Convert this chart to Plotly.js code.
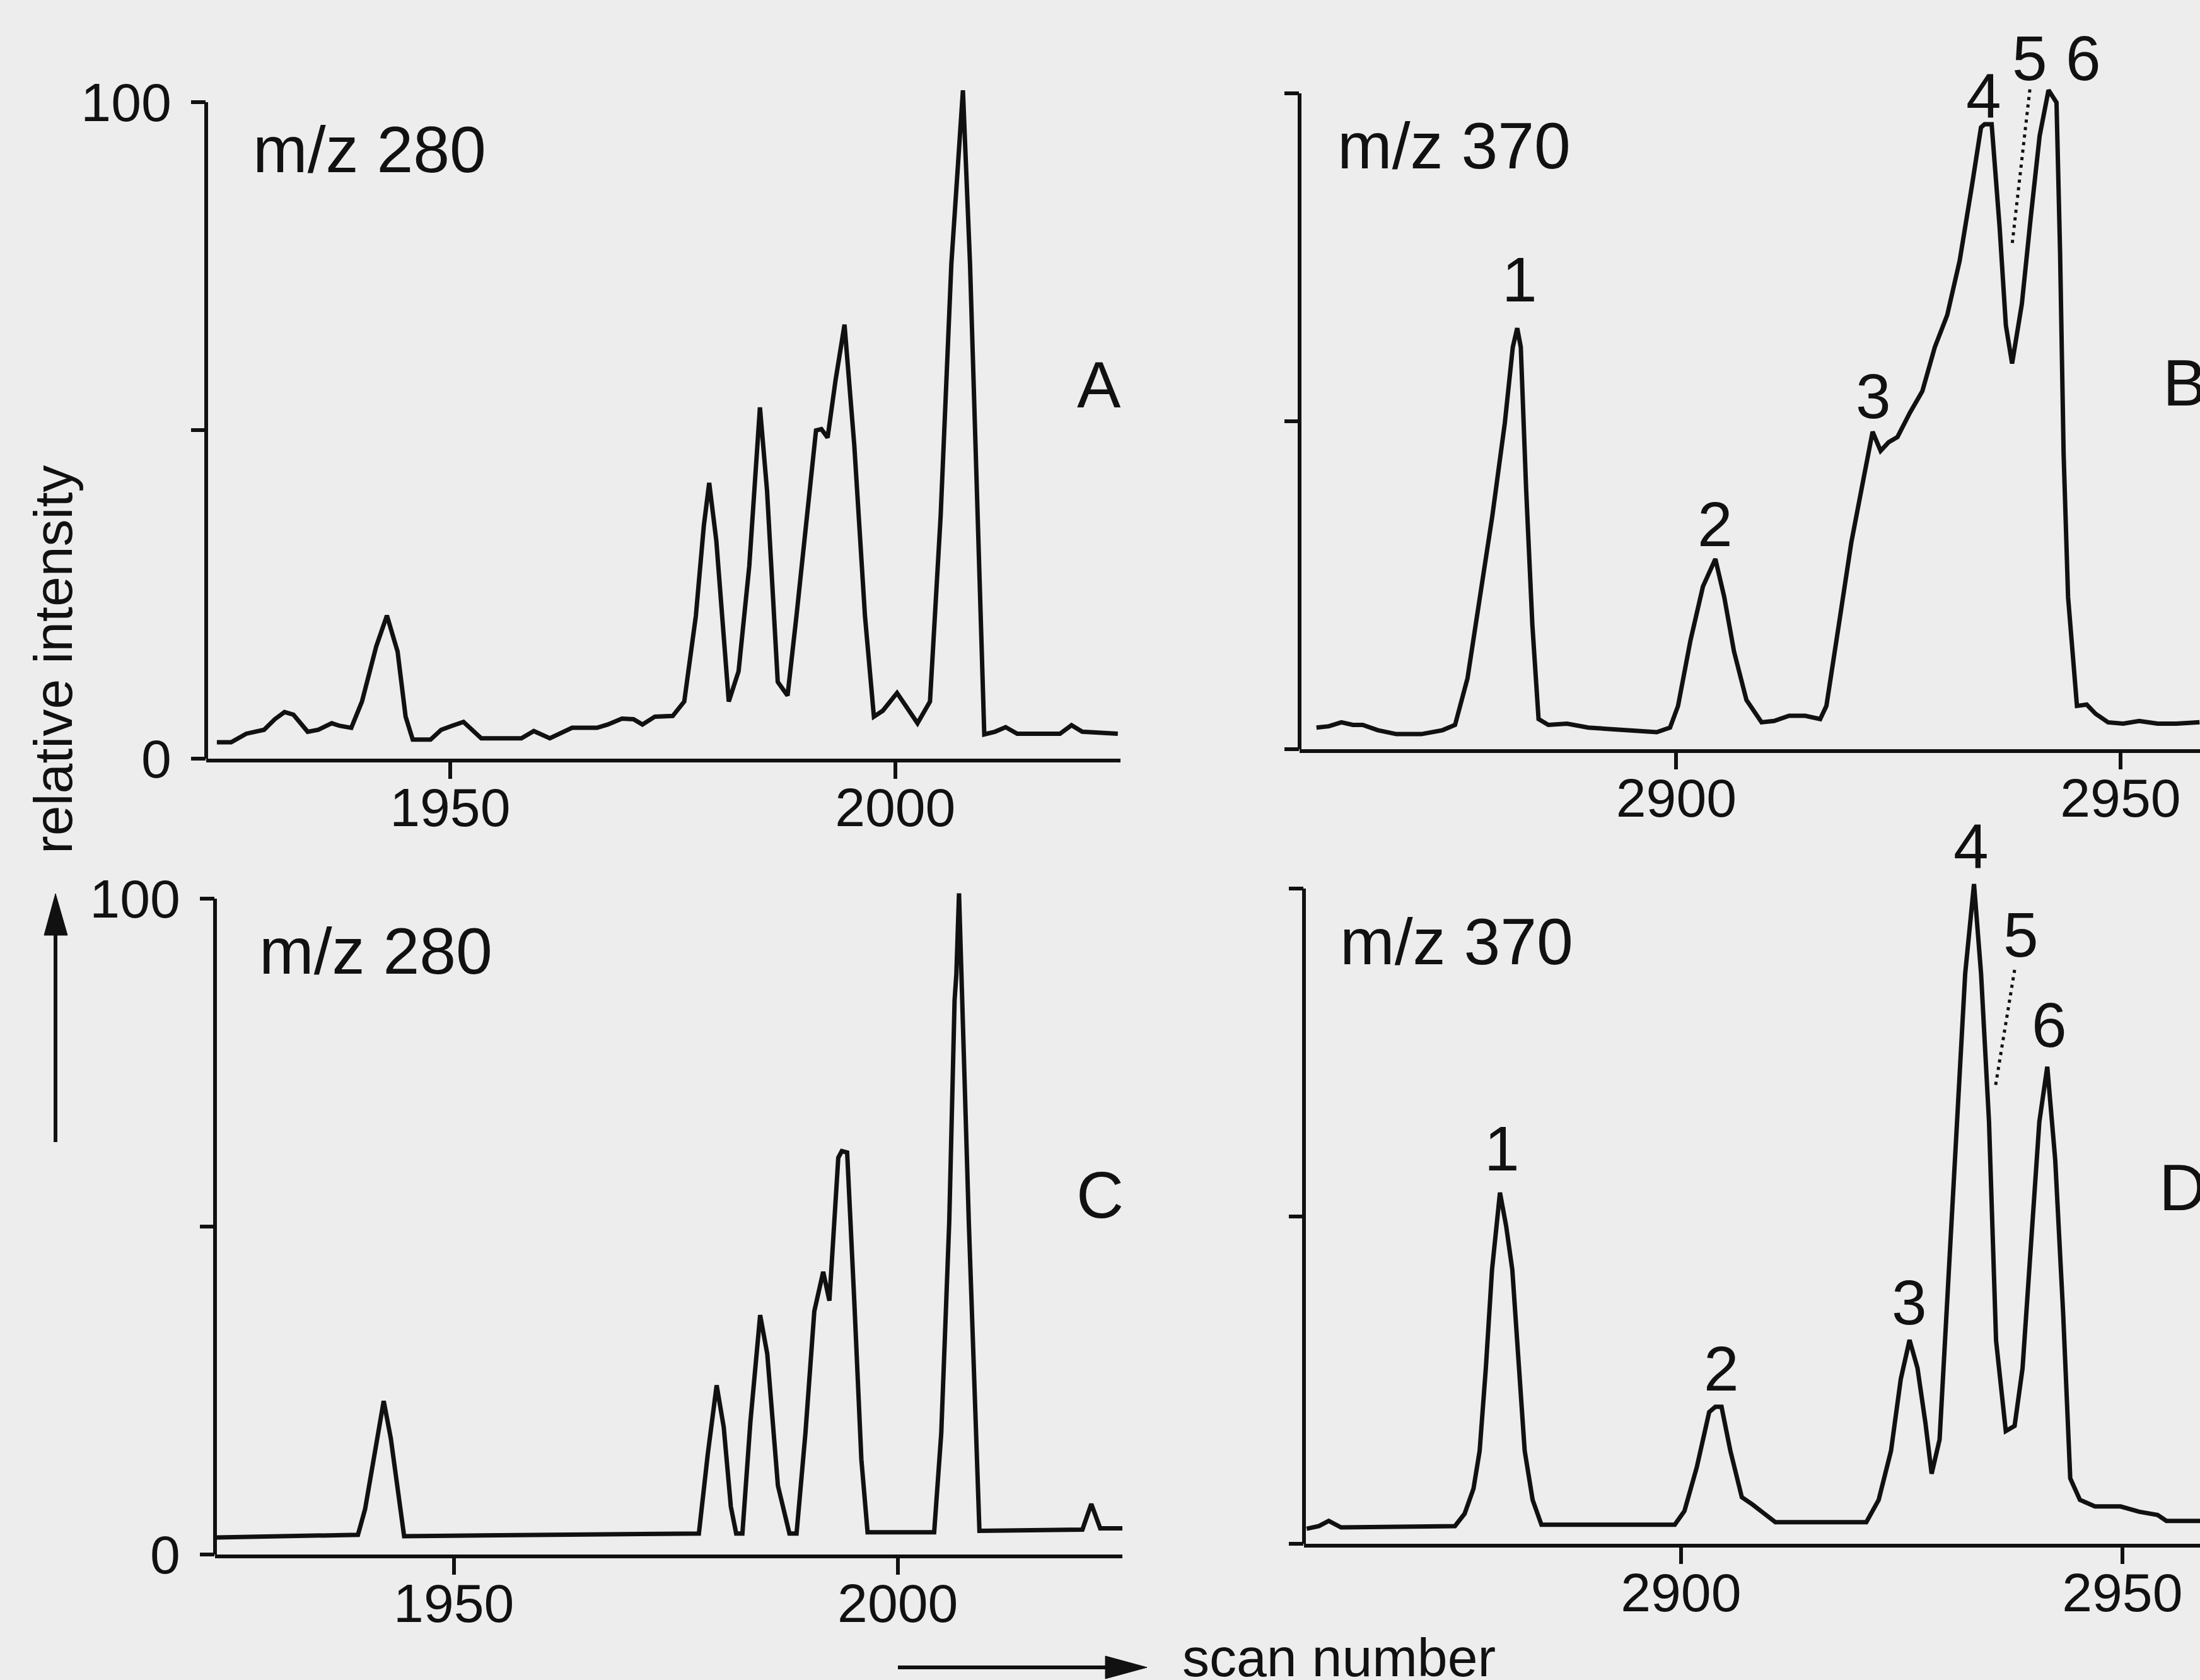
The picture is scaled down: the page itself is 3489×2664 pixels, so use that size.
<!DOCTYPE html>
<html>
<head>
<meta charset="utf-8">
<script src="https://cdn.plot.ly/plotly-3.0.1.min.js"></script>
<style>
html,body{margin:0;padding:0;background:#ededed;}
#chart{width:3489px;height:2664px;}
</style>
</head>
<body>
<div id="chart"></div>
<script>
// ---------- data ----------
// Panel A: m/z 280 (scan number vs relative intensity)
const scanA = [1923.8,1925.4,1927.1,1929.1,1930.3,1931.4,1932.4,1934.0,1935.2,1936.7,1937.6,1938.9,1940.1,1941.7,1942.9,1944.1,1945.0,1945.8,1947.8,1949.0,1950.2,1951.5,1953.5,1958.0,1959.4,1961.2,1963.7,1966.5,1967.7,1969.3,1970.6,1971.6,1973.0,1975.0,1976.3,1977.6,1978.5,1979.1,1979.9,1981.3,1982.4,1983.6,1984.8,1985.6,1986.8,1987.9,1988.9,1990.1,1991.1,1991.7,1992.4,1993.3,1994.3,1995.4,1996.6,1997.6,1998.6,2000.2,2001.5,2002.5,2003.9,2005.1,2006.3,2007.6,2008.4,2009.2,2010.0,2011.2,2012.4,2013.7,2018.5,2019.8,2021.0,2025.0];
const intA  = [2.5,2.5,3.8,4.4,6.0,7.1,6.7,4.1,4.4,5.4,5.0,4.7,8.7,17.1,21.8,16.3,6.4,2.9,2.9,4.4,5.0,5.6,3.1,3.1,4.2,3.1,4.7,4.7,5.2,6.1,6.0,5.2,6.4,6.5,8.7,21.7,35.5,42.0,33.2,8.7,13.3,29.3,53.5,40.8,11.7,9.6,21.7,37.0,50.0,50.2,48.9,57.7,66.1,47.7,21.7,6.4,7.3,10.0,7.5,5.4,8.7,37.0,75.3,101.8,75.3,37.0,3.7,4.1,4.8,3.8,3.8,5.1,4.1,3.8];

// Panel B: m/z 370
const scanB = [2859.5,2860.9,2862.3,2863.6,2864.7,2866.4,2868.5,2871.3,2873.7,2875.1,2876.5,2877.9,2879.3,2880.7,2881.6,2882.1,2882.5,2883.1,2883.8,2884.5,2885.6,2887.7,2890.1,2894.3,2897.8,2899.3,2900.2,2901.6,2903.0,2904.4,2905.4,2906.5,2907.9,2909.6,2911.0,2912.7,2914.5,2916.2,2916.9,2918.3,2919.7,2921.1,2922.1,2923.0,2923.9,2924.9,2926.3,2927.7,2929.1,2930.5,2931.9,2933.3,2934.3,2934.7,2935.5,2936.4,2937.1,2937.8,2938.9,2939.9,2940.9,2941.9,2942.8,2943.2,2943.6,2944.1,2945.1,2946.2,2947.2,2948.6,2950.3,2952.1,2954.2,2956.3,2958.9];
const intB  = [3.3,3.5,4.1,3.7,3.7,2.9,2.3,2.3,2.9,3.7,10.8,23.2,35.6,49.7,61.3,64.2,61.3,39.7,19.0,4.6,3.7,3.9,3.3,2.9,2.6,3.3,6.6,16.6,24.8,29.0,23.2,14.9,7.5,4.1,4.3,5.1,5.1,4.6,6.6,19.0,31.5,41.4,48.4,45.5,46.8,47.6,51.3,54.6,61.3,66.2,74.5,86.1,94.8,95.3,95.3,79.5,64.6,58.8,67.9,81.1,93.5,100.5,98.6,75.8,45.0,23.2,6.6,6.8,5.4,4.1,3.9,4.3,3.9,3.9,4.1];

// Panel C: m/z 280
const scanC = [1923.3,1939.2,1940.0,1941.1,1942.1,1942.9,1943.6,1944.4,1977.6,1978.6,1979.6,1980.4,1981.2,1981.8,1982.5,1983.4,1984.5,1985.3,1986.5,1987.8,1988.6,1989.6,1990.6,1991.6,1992.3,1993.3,1993.7,1994.3,1995.1,1995.9,1996.6,2004.1,2004.9,2005.8,2006.4,2006.6,2006.9,2008.0,2009.2,2020.8,2021.8,2022.8,2025.7];
const intC  = [2.6,3.0,6.9,15.3,23.4,17.7,10.5,2.8,3.2,15.3,25.8,19.4,7.3,3.2,3.2,20.2,36.5,30.6,10.5,3.2,3.2,18.5,37.1,43.1,38.7,60.5,61.5,61.3,38.7,14.5,3.4,3.4,18.5,50.8,84.5,88.5,100.8,50.8,3.6,3.8,7.7,4.0,4.0];

// Panel D: m/z 370
const scanD = [2857.6,2859.0,2860.1,2861.5,2874.4,2875.5,2876.5,2877.2,2877.9,2878.6,2879.5,2880.2,2880.9,2881.6,2882.3,2883.2,2884.2,2899.3,2900.4,2901.8,2903.2,2903.9,2904.6,2905.6,2906.9,2908.1,2909.5,2910.7,2921.0,2922.4,2923.8,2924.9,2925.9,2926.8,2927.7,2928.4,2929.3,2930.1,2931.2,2932.2,2933.2,2934.0,2934.9,2935.7,2936.8,2937.8,2938.7,2939.6,2940.6,2941.5,2942.4,2943.3,2944.1,2945.2,2946.9,2949.8,2951.9,2954.0,2955.0,2958.8];
const intD  = [2.3,2.7,3.5,2.5,2.7,4.6,8.4,14.2,26.8,41.8,53.6,48.5,41.8,26.8,14.2,6.7,2.9,2.9,5.0,11.7,20.1,20.9,20.9,14.2,7.1,6.0,4.6,3.3,3.3,6.7,14.2,25.1,31.1,26.8,18.4,10.7,15.9,35.1,64.4,87.0,100.7,87.0,64.4,31.0,17.2,18.0,26.8,45.2,64.4,72.8,58.6,35.1,10.0,6.7,5.7,5.7,4.9,4.4,3.5,3.5];

// peak labels
const peakLabels = ['1','2','3','4','5','6'];
const peakScanB = [2882.4,2904.4,2922.2,2934.6,2939.8,2945.8];
const peakIntB  = [71.6,34.3,53.8,99.6,105.4,105.4];
const peakScanD = [2879.7,2904.6,2925.9,2932.9,2938.5,2941.7];
const peakIntD  = [60.3,26.8,36.9,106.4,93.0,79.2];

// dotted leader lines for peak 5
const leaderScanB = [2939.8,2937.8];
const leaderIntB  = [100.6,76.9];
const leaderScanD = [2937.8,2935.6];
const leaderIntD  = [87.6,69.6];

// axis ticks
const xTicks280 = [1950,2000];
const xTicks370 = [2900,2950];
const yTicks = [0,50,100];
const yTickTextLabelled = ['0','','100'];
const yTickTextBlank = ['','',''];

// panel texts
const ionLabels = ['m/z 280','m/z 370','m/z 280','m/z 370'];
const panelLetters = ['A','B','C','D'];

// ---------- layout ----------
const W = 3489, H = 2664;
const INK = '#111111';
const FONT = '"Liberation Sans", Arial, Helvetica, sans-serif';
const LW = 7;   // trace width
const AW = 6;   // axis width

function line(x, y, xa, ya, dash, w) {
  return {x: x, y: y, xaxis: xa, yaxis: ya, type: 'scatter', mode: 'lines',
          line: {color: INK, width: w || LW, dash: dash || 'solid', shape: 'linear'},
          hoverinfo: 'skip', showlegend: false};
}

const traces = [
  line(scanA, intA, 'x', 'y'),
  line(scanB, intB, 'x2', 'y2'),
  line(scanC, intC, 'x3', 'y3'),
  line(scanD, intD, 'x4', 'y4'),
  line(leaderScanB, leaderIntB, 'x2', 'y2', '5px,7px', 5),
  line(leaderScanD, leaderIntD, 'x4', 'y4', '5px,7px', 5)
];

function xaxis(domain, range, ticks, anchor) {
  return {domain: domain, range: range, anchor: anchor, showgrid: false, zeroline: false,
          showline: true, linecolor: INK, linewidth: AW, mirror: false,
          tickmode: 'array', tickvals: ticks, ticktext: ticks.map(String),
          ticks: 'outside', ticklen: 26, tickwidth: AW, tickcolor: INK,
          tickfont: {family: FONT, size: 86, color: INK}, ticklabelstandoff: -28, fixedrange: true};
}
function yaxis(domain, anchor, labels) {
  return {domain: domain, range: [0, 110], anchor: anchor, showgrid: false, zeroline: false,
          showline: false, tickmode: 'array', tickvals: yTicks, ticktext: labels,
          ticks: 'outside', ticklen: 23, tickwidth: AW, tickcolor: INK,
          tickfont: {family: FONT, size: 86, color: INK}, ticklabelstandoff: 14, fixedrange: true};
}

const ann = [];
function txt(x, y, xref, yref, text, size, xanchor) {
  ann.push({x: x, y: y, xref: xref, yref: yref, text: text, showarrow: false,
            xanchor: xanchor || 'center', yanchor: 'middle',
            font: {family: FONT, size: size, color: INK}});
}
// ion labels
txt(1927.7, 92.8, 'x', 'y', ionLabels[0], 104, 'left');
txt(2861.7, 92.0, 'x2', 'y2', ionLabels[1], 104, 'left');
txt(1927.9, 92.0, 'x3', 'y3', ionLabels[2], 104, 'left');
txt(2861.2, 91.9, 'x4', 'y4', ionLabels[3], 104, 'left');
// panel letters (B and D sit at the right edge, as in the original)
txt(2022.9, 57.0, 'x', 'y', panelLetters[0], 104);
txt(2957.2, 55.9, 'x2', 'y2', panelLetters[1], 104);
txt(2022.8, 54.8, 'x3', 'y3', panelLetters[2], 104);
txt(2956.8, 54.4, 'x4', 'y4', panelLetters[3], 104);
// peak numbers
peakLabels.forEach(function (t, i) {
  txt(peakScanB[i], peakIntB[i], 'x2', 'y2', t, 100);
  txt(peakScanD[i], peakIntD[i], 'x4', 'y4', t, 100);
});
// axis titles
ann.push({x: 84 / W, y: 1 - 1046 / H, xref: 'paper', yref: 'paper', text: 'relative intensity',
          textangle: -90, showarrow: false, xanchor: 'center', yanchor: 'middle',
          font: {family: FONT, size: 86, color: INK}});
ann.push({x: 1873 / W, y: 1 - 2628 / H, xref: 'paper', yref: 'paper', text: 'scan number',
          showarrow: false, xanchor: 'left', yanchor: 'middle',
          font: {family: FONT, size: 86, color: INK}});

// y-axis lines from 0 to 100 and the two direction arrows
function yLine(xr, yr) {
  return {type: 'line', xref: xr + ' domain', yref: yr, x0: 0, x1: 0, y0: 0, y1: 100,
          line: {color: INK, width: AW}, layer: 'above'};
}
function px(x) { return x / W; }
function py(y) { return 1 - y / H; }
const shapes = [
  yLine('x', 'y'), yLine('x2', 'y2'), yLine('x3', 'y3'), yLine('x4', 'y4'),
  {type: 'line', xref: 'paper', yref: 'paper', x0: px(88), x1: px(88), y0: py(1811), y1: py(1470),
   line: {color: INK, width: 6}},
  {type: 'path', xref: 'paper', yref: 'paper',
   path: 'M ' + px(70) + ' ' + py(1483) + ' L ' + px(88) + ' ' + py(1417) + ' L ' + px(107) + ' ' + py(1483) + ' Z',
   fillcolor: INK, line: {color: INK, width: 1}},
  {type: 'line', xref: 'paper', yref: 'paper', x0: px(1424), x1: px(1770), y0: py(2644), y1: py(2644),
   line: {color: INK, width: 6}},
  {type: 'path', xref: 'paper', yref: 'paper',
   path: 'M ' + px(1753) + ' ' + py(2626) + ' L ' + px(1819) + ' ' + py(2644) + ' L ' + px(1753) + ' ' + py(2662) + ' Z',
   fillcolor: INK, line: {color: INK, width: 1}}
];

const layout = {
  width: W, height: H,
  margin: {l: 0, r: 0, t: 0, b: 0, pad: 0},
  paper_bgcolor: '#ededed', plot_bgcolor: 'rgba(0,0,0,0)',
  showlegend: false,
  font: {family: FONT, color: INK},
  xaxis:  xaxis([327 / W, 1777 / W], [1922.6, 2025.3], xTicks280, 'y'),
  yaxis:  yaxis([0.54842, 0.97827], 'x', yTickTextLabelled),
  xaxis2: xaxis([2061 / W, 1], [2857.6, 2958.95], xTicks370, 'y2'),
  yaxis2: yaxis([0.55405, 0.98348], 'x2', yTickTextBlank),
  xaxis3: xaxis([341 / W, 1780 / W], [1923.1, 2025.3], xTicks280, 'y3'),
  yaxis3: yaxis([0.07470, 0.50413], 'x3', yTickTextLabelled),
  xaxis4: xaxis([2068 / W, 1], [2857.3, 2958.8], xTicks370, 'y4'),
  yaxis4: yaxis([0.08108, 0.51010], 'x4', yTickTextBlank),
  annotations: ann,
  shapes: shapes
};

Plotly.newPlot('chart', traces, layout, {displayModeBar: false, staticPlot: true});
</script>
</body>
</html>
